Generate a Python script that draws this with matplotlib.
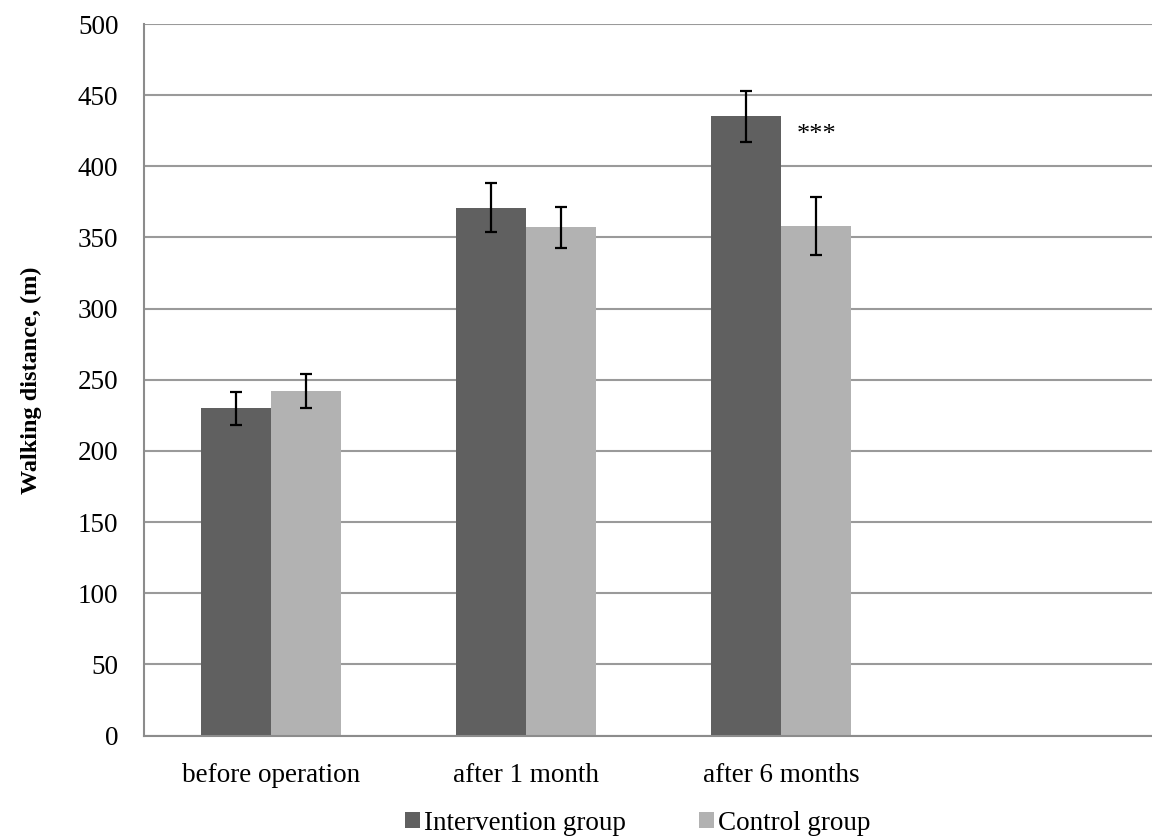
import matplotlib
matplotlib.use("Agg")
import matplotlib.pyplot as plt
import numpy as np

categories = ["before operation", "after 1 month", "after 6 months", ""]
intervention = [230, 371, 435]
intervention_err = [11.5, 17, 18]
control = [242, 357, 358]
control_err = [12, 14.5, 20.5]
series_names = ["Intervention group", "Control group"]
yticks = [0, 50, 100, 150, 200, 250, 300, 350, 400, 450, 500]

plt.rcParams["font.family"] = ["Liberation Serif", "DejaVu Serif"]

W, H = 1152, 838
fig = plt.figure(figsize=(W / 100, H / 100), dpi=100)
ax = fig.add_axes([143.5 / W, 1 - 735.5 / H, 1020 / W, 711.5 / H])

n = len(intervention)
x = np.arange(n)
w = 0.275
dark = "#606060"
light = "#b2b2b2"

ax.bar(x - w / 2, intervention, width=w, color=dark, zorder=2,
       label=series_names[0])
ax.bar(x + w / 2, control, width=w, color=light, zorder=2,
       label=series_names[1])
ax.errorbar(x - w / 2, intervention, yerr=intervention_err, fmt="none",
            ecolor="black", elinewidth=1.6, capsize=4.5, capthick=1.6, zorder=3)
ax.errorbar(x + w / 2, control, yerr=control_err, fmt="none",
            ecolor="black", elinewidth=1.6, capsize=4.5, capthick=1.6, zorder=3)

ax.text(2 + 0.14, 422, "***", ha="center", va="center", fontsize=19)

ax.set_xlim(-0.5, len(categories) - 0.5)
ax.set_ylim(0, 500)
ax.set_yticks(yticks)
ax.set_xticks(np.arange(len(categories)))
ax.set_xticklabels(categories)
ax.tick_params(axis="both", length=0, labelsize=19.5)
ax.tick_params(axis="y", pad=18)
ax.tick_params(axis="x", pad=20)
ax.yaxis.grid(True, color="#9a9a9a", linewidth=1.5, zorder=0)
ax.set_axisbelow(True)

for s in ["top", "right"]:
    ax.spines[s].set_visible(False)
for s in ["left", "bottom"]:
    ax.spines[s].set_color("#8c8c8c")
    ax.spines[s].set_linewidth(1.5)

ax.set_ylabel("Walking distance, (m)", fontsize=17.5, fontweight="bold",
              labelpad=26)

ax.legend(loc="center left", bbox_to_anchor=(405 / W, 1 - 823 / H),
          bbox_transform=fig.transFigure, ncol=2,
          frameon=False, fontsize=19.5, handlelength=0.55, handleheight=0.55,
          handletextpad=0.15, columnspacing=2.7, borderpad=0, borderaxespad=0)

fig.savefig("out.png", dpi=100, facecolor="white")
